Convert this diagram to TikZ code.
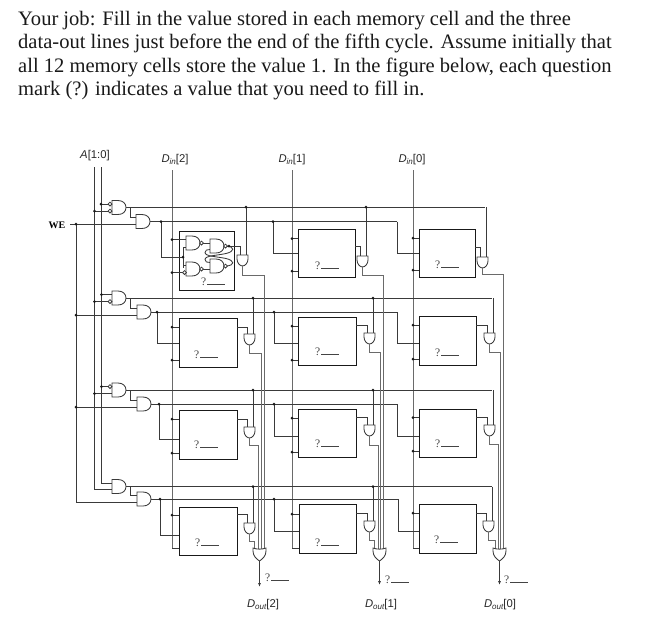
\documentclass[tikz,border=0pt]{standalone}
\usepackage{fontspec}
\usetikzlibrary{arrows.meta}
\setmainfont{Liberation Serif}
\newfontfamily\lblfont{Liberation Sans}
\definecolor{wirec}{HTML}{3A3A3A}
\definecolor{busc}{HTML}{6A6A6A}
\definecolor{qmc}{HTML}{444444}
\tikzset{
  wire/.style={draw=wirec,line width=0.85pt},
  bus/.style={draw=busc,line width=0.9pt},
  gateshape/.style={draw=wirec,line width=0.85pt,fill=white},
  cellbox/.style={draw=black!90,line width=0.9pt,inner sep=0pt,fill=none},
  para/.style={font=\fontsize{20.55pt}{23pt}\selectfont,anchor=base west,inner sep=0pt,text=black!90},
  sig/.style={font=\lblfont\fontsize{11.3pt}{13pt}\selectfont,inner sep=0pt,text=black!85},
  qm/.style={font=\fontsize{11.5pt}{12pt}\selectfont,anchor=base west,inner sep=0pt,text=qmc},
  jdot/.style={fill=black!90}
}
% rightward AND gate: #1 name, #2 left x, #3 centre y
\newcommand\GateR[3]{%
  \begin{scope}[shift={(#2,#3)}]
    \draw[gateshape] (0,-7) -- (6,-7) .. controls (11,-7) and (14,-4) .. (14,0)
       .. controls (14,4) and (11,7) .. (6,7) -- (0,7) -- cycle;
    \coordinate (#1-a) at (0,-3.5);
    \coordinate (#1-b) at (0,3.5);
    \coordinate (#1-o) at (14,0);
  \end{scope}}
% downward AND gate: #1 name, #2 left x, #3 top y
\newcommand\GateD[3]{%
  \begin{scope}[shift={(#2,#3)}]
    \draw[gateshape] (0,0) -- (11,0) -- (11,4) .. controls (11,8) and (8,11) .. (5.5,11)
       .. controls (3,11) and (0,8) .. (0,4) -- cycle;
    \coordinate (#1-a) at (3,0);
    \coordinate (#1-b) at (9,0);
    \coordinate (#1-o) at (5.5,11);
  \end{scope}}
% downward OR gate: #1 name, #2 left x, #3 top y
\newcommand\OrD[3]{%
  \begin{scope}[shift={(#2,#3)}]
    \draw[gateshape] (0,0) .. controls (4,1.5) and (9,1.5) .. (13,0) -- (13,3)
       .. controls (13,8) and (9.5,11) .. (6.5,13) .. controls (3.5,11) and (0,8) .. (0,3) -- cycle;
    \coordinate (#1-o) at (6.5,13);
  \end{scope}}
\newcommand\Bub[2]{\draw[gateshape] (#1,#2) circle (1.9);}
\newcommand\Qm[3]{\node[qm] (#1) at (#2,#3) {?\hspace{1pt}\rule{18pt}{0.55pt}};}
\begin{document}
\begin{tikzpicture}[x=1pt,y=-1pt]
\useasboundingbox (0,0) rectangle (658,630);
% paragraph
\node[para] (t1) at (18,25) {Your job: Fill in the value stored in each memory cell and the three};
\node[para] (t2) at (18,48) {data-out lines just before the end of the fifth cycle. Assume initially that};
\node[para] (t3) at (18,72) {all 12 memory cells store the value 1. In the figure below, each question};
\node[para] (t4) at (18,95) {mark (?) indicates a value that you need to fill in.};
% top labels
\node[sig] (lA) at (95,156) {\itshape A\upshape[1:0]};
\node[sig] (l2) at (175,160) {\itshape D\raisebox{-2pt}{\footnotesize in}\upshape[2]};
\node[sig] (l1) at (292,160) {\itshape D\raisebox{-2pt}{\footnotesize in}\upshape[1]};
\node[sig] (l0) at (412,160) {\itshape D\raisebox{-2pt}{\footnotesize in}\upshape[0]};
\node[font=\bfseries\fontsize{10pt}{12pt}\selectfont,inner sep=0pt] (lwe) at (57,225) {WE};
% long vertical wires
\coordinate (at1) at (94.5,167); \coordinate (at0) at (101,167);
\coordinate (dt2) at (172,170); \coordinate (dt1) at (292,170); \coordinate (dt0) at (413,170);
\coordinate (db2) at (172,548); \coordinate (db1) at (292,548); \coordinate (db0) at (413,548);
\draw[wire] (at1) -- (94.5,489) -- (112,489);
\draw[wire] (at0) -- (101,483) -- (112,483);
\draw[bus] (dt2) -- (db2); \draw[bus] (dt1) -- (db1); \draw[bus] (dt0) -- (db0);
\draw[wire] (70,224) -- (136,224);
\draw[wire] (76,224) -- (76,502) -- (137,502);
\draw[wire] (76,315) -- (137,315);
\draw[wire] (76,407) -- (137,407);
% address decoder and enable wires for each row
\foreach \yo/\ye/\xs/\xe/\gx in {207/221.5/485/397/136, 298/312/492/397/137, 390/404/492/397/137, 486.5/499/492/398/137}{
  \draw[wire] (120,\yo) -- (\xs,\yo);
  \draw[wire] (150,\ye) -- (\xe,\ye);
  \draw[wire] (130,\yo) |- (\gx,\ye-4);
}
\draw[wire] (101,204) -- (112,204); \draw[wire] (94.5,211) -- (112,211);
\draw[wire] (101.5,294.5) -- (112,294.5); \draw[wire] (94.5,301.5) -- (112,301.5);
\draw[wire] (101.5,386.5) -- (112,386.5); \draw[wire] (94.5,393.5) -- (112,393.5);
% cells
\foreach \cid/\xa/\ya/\xb/\yb/\din/\dA/\dB/\eny/\enx/\ent/\sy/\gl/\gT/\iy/\oy/\bx in {
 11/179/231/234/290/172/239/272.5/221.5/161/257/207/237/255/246/275/264,
 12/298/229/355/277/292/238.5/271/221.5/273/253/207/357/256/246/275/383,
 13/419/229/475/277/413/238/270/221.5/397/253/207/477/257/247/274/503,
 21/179/318/237/367/172/327/360/312/157/343/298/244/334/327/353/261,
 22/298/317/356/365/292/326/360/312/274/343/298/364/333/325/352/380.5,
 23/419/316/476/365/413/325/359/312/397/343/298/484/333/325/352/500.5,
 31/179/410/237/459/172/419/453/404/159/439/390/244/427/419/445/258,
 32/298/409/356/457/292/418/452/404/274/436/390/364/425/417/445/378,
 33/419/409/476/457/413/417.5/451/404/397/436/390/484/425/417/444/498,
 41/179/507/237/555/172/515/548/499/160/535/486.5/244/523/514.5/541/254,
 42/299/504/356/553/292/514/548/499/274/531/486.5/364/521/513/540/374,
 43/419/504/476/553/413/513/548/499/398/531/486.5/483/521/513/540/495}{
  \node[cellbox,minimum width={(\xb-\xa)*1pt},minimum height={(\yb-\ya)*1pt}] (c\cid) at ({(\xa+\xb)/2},{(\ya+\yb)/2}) {};
  \coordinate (e\cid) at (\xa,\ent);
  \coordinate (j\cid) at (\enx,\eny);
  \coordinate (r\cid) at (\xb,\iy);
  \coordinate (s\cid) at (\gl+9,\sy);
  \coordinate (b\cid) at (\bx,\oy);
  \coordinate (t\cid) at (\bx,549);
  \ifnum\cid=11\else
    \draw[wire] (\din,\dA) -- (\xa,\dA);
    \draw[wire] (\din,\dB) -- (\xa,\dB);
    \draw[wire] (j\cid) |- (e\cid);
  \fi
  \GateD{g\cid}{\gl}{\gT}
  \draw[wire] (r\cid) -| (g\cid-a);
  \draw[wire] (s\cid) -- (g\cid-b);
  \draw[bus] (g\cid-o) |- (b\cid) -- (t\cid);
}
% decoder gates
\GateR{p1}{112}{207.5} \GateR{w1}{136}{221.5}
\GateR{p2}{112}{298}   \GateR{w2}{137}{312}
\GateR{p3}{112}{390}   \GateR{w3}{137}{404}
\GateR{p4}{112}{486.5} \GateR{w4}{137}{499}
\Bub{110}{204}\Bub{110}{211}\Bub{110}{301.5}\Bub{110}{386.5}
% first cell: latch
\coordinate (en11) at (183,257);
\draw[wire] (j11) |- (en11);
\draw[wire] (183,247) -- (183,268);
\draw[wire] (172,239.5) -- (186,239.5);
\draw[wire] (172,272.5) -- (186,272.5);
\draw[wire] (183,247) -- (186,247);
\draw[wire] (183,265.5) -- (186,265.5);
\draw[wire] (201,243) -- (210,243);
\draw[wire] (201,269) -- (210,269);
\draw[wire] (225,246) -- (237,246);
\draw[wire] (226,246) .. controls (235,246.5) and (235,251.5) .. (226,253.5) .. controls (217,255.5) and (205,255.5) .. (205,259.5) .. controls (205,262) and (207,262.5) .. (210,262.5);
\draw[wire] (226,266) .. controls (235,265.5) and (235,260.5) .. (226,258.5) .. controls (217,256.5) and (205,256.5) .. (205,252.5) .. controls (205,250) and (207,249.5) .. (210,249.5);
\GateR{la}{186}{243}\GateR{lb}{186}{269}
\GateR{lc}{210}{246}\GateR{ld}{210}{266}
\Bub{201.5}{243}\Bub{201.5}{269}\Bub{225.5}{246}\Bub{225.5}{266}\Bub{184.5}{272.5}
% output OR gates and labels
\OrD{o2}{253}{548}\OrD{o1}{373}{548}\OrD{o0}{493}{548}
\coordinate (x2) at (259.5,587); \coordinate (x1) at (379.5,585); \coordinate (x0) at (499.5,585);
\draw[wire,-{Latex[length=4pt,width=3pt]}] (o2-o) -- (x2);
\draw[wire,-{Latex[length=4pt,width=3pt]}] (o1-o) -- (x1);
\draw[wire,-{Latex[length=4pt,width=3pt]}] (o0-o) -- (x0);
\node[sig] (do2) at (263,605) {\itshape D\raisebox{-2pt}{\footnotesize out}\upshape[2]};
\node[sig] (do1) at (381,605) {\itshape D\raisebox{-2pt}{\footnotesize out}\upshape[1]};
\node[sig] (do0) at (500,605) {\itshape D\raisebox{-2pt}{\footnotesize out}\upshape[0]};
% junction dots
\foreach \px/\py in {76/224,76/315,76/407,
  101/204,94.5/211,101.5/294.5,94.5/301.5,101.5/386.5,94.5/393.5,
  161/221.5,273/221.5,246/207,366/207,
  157/312,274/312,253/298,373/298,
  159/404,274/404,253/390,373/390,
  160/499,274/499,253/486.5,373/486.5,
  172/239.5,172/272.5,292/238.5,292/271,413/238,413/270,183/257,229/246,
  172/327,172/360,292/326,292/360,413/325,413/359,
  172/419,172/453,292/418,292/452,413/417.5,413/451,
  172/515,292/514,413/513}{
  \fill[jdot] (\px,\py) circle (1.5);
}
% question marks
\Qm{q11}{201}{285}\Qm{q12}{315}{269}\Qm{q13}{435}{268}
\Qm{q21}{194}{358}\Qm{q22}{315}{355}\Qm{q23}{435}{356}
\Qm{q31}{194}{448}\Qm{q32}{315}{447}\Qm{q33}{435}{447}
\Qm{q41}{195}{546}\Qm{q42}{315}{546}\Qm{q43}{434}{543}
\Qm{qo2}{265}{581}\Qm{qo1}{385}{583}\Qm{qo0}{504}{583}
\end{tikzpicture}
\end{document}
